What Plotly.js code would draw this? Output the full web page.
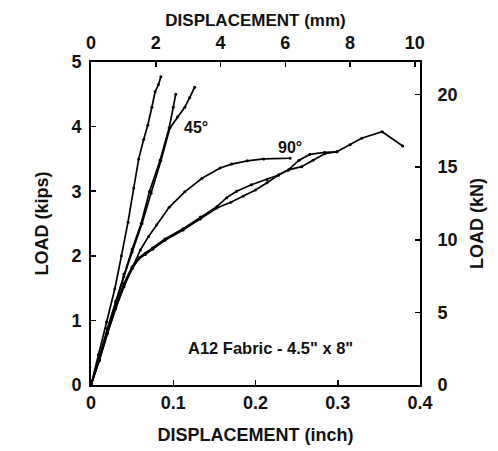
<!DOCTYPE html>
<html>
<head>
<meta charset="utf-8">
<script src="https://cdn.plot.ly/plotly-3.0.1.min.js"></script>
<style>
  html, body { margin: 0; padding: 0; background: #fff; }
  #chart { width: 498px; height: 451px; }
</style>
</head>
<body>
<div id="chart"></div>
<script>
// Load–displacement curves, A12 fabric specimens (inch / kips)
const steepA_x = [0, 0.009, 0.019, 0.029, 0.037, 0.045, 0.052, 0.058, 0.064, 0.069, 0.074, 0.078, 0.082, 0.085];
const steepA_y = [0, 0.47, 0.98, 1.49, 2.0, 2.52, 3.05, 3.5, 3.8, 4.02, 4.3, 4.54, 4.65, 4.77];

const steepB_x = [0, 0.01, 0.02, 0.03, 0.04, 0.05, 0.061, 0.071, 0.084, 0.095, 0.1, 0.103];
const steepB_y = [0, 0.42, 0.88, 1.3, 1.72, 2.1, 2.5, 2.99, 3.48, 3.98, 4.3, 4.5];

const deg45_x = [0, 0.01, 0.02, 0.03, 0.04, 0.05, 0.062, 0.073, 0.085, 0.096, 0.105, 0.114, 0.12, 0.126];
const deg45_y = [0, 0.4, 0.85, 1.27, 1.68, 2.06, 2.5, 2.97, 3.47, 3.98, 4.15, 4.3, 4.45, 4.61];

const deg90_x = [0, 0.01, 0.02, 0.03, 0.04, 0.05, 0.06, 0.07, 0.08, 0.095, 0.114, 0.135, 0.157, 0.171, 0.19, 0.21, 0.242];
const deg90_y = [0, 0.38, 0.8, 1.18, 1.52, 1.82, 2.09, 2.3, 2.48, 2.75, 2.99, 3.2, 3.36, 3.42, 3.47, 3.5, 3.51];

const longE_x = [0, 0.01, 0.02, 0.03, 0.04, 0.05, 0.058, 0.066, 0.075, 0.09, 0.112, 0.133, 0.153, 0.17, 0.185, 0.2, 0.214, 0.228, 0.24, 0.256, 0.27, 0.284, 0.299, 0.315, 0.329, 0.354, 0.379];
const longE_y = [0, 0.38, 0.8, 1.2, 1.55, 1.8, 1.95, 2.02, 2.1, 2.24, 2.40, 2.57, 2.74, 2.83, 2.92, 3.02, 3.13, 3.25, 3.33, 3.38, 3.48, 3.58, 3.61, 3.72, 3.82, 3.92, 3.70];

const longF_x = [0, 0.01, 0.02, 0.03, 0.04, 0.05, 0.058, 0.066, 0.075, 0.09, 0.112, 0.133, 0.153, 0.165, 0.177, 0.195, 0.214, 0.228, 0.24, 0.253, 0.266, 0.284, 0.299];
const longF_y = [0, 0.4, 0.82, 1.22, 1.57, 1.83, 1.97, 2.04, 2.12, 2.26, 2.42, 2.6, 2.76, 2.9, 3.0, 3.1, 3.18, 3.25, 3.33, 3.48, 3.57, 3.6, 3.61];

// Axis ranges and tick labels
const inchRange = [0, 0.4];
const kipRange = [0, 5];
const inchTicks = [0, 0.1, 0.2, 0.3, 0.4];
const inchTickText = ['0', '0.1', '0.2', '0.3', '0.4'];
const kipTicks = [0, 1, 2, 3, 4, 5];
const mmTicks = [0, 2, 4, 6, 8, 10];
const kNTicks = [0, 5, 10, 15, 20];
const MM_PER_INCH = 25.4;
const KN_PER_KIP = 4.448;

const FONT = 'Arial, "Liberation Sans", Helvetica, sans-serif';

function curve(x, y) {
  return {
    x: x, y: y, type: 'scatter', mode: 'lines+markers',
    line: { color: '#000', width: 1.7 },
    marker: { color: '#000', size: 3 },
    hoverinfo: 'skip', showlegend: false
  };
}

const traces = [
  curve(longE_x, longE_y),
  curve(longF_x, longF_y),
  curve(deg90_x, deg90_y),
  curve(steepA_x, steepA_y),
  curve(steepB_x, steepB_y),
  curve(deg45_x, deg45_y),
  // secondary (mm / kN) axes share the same frame
  {
    x: [0, inchRange[1] * MM_PER_INCH], y: [0, kipRange[1] * KN_PER_KIP],
    xaxis: 'x2', yaxis: 'y2', type: 'scatter', mode: 'markers',
    marker: { opacity: 0 }, hoverinfo: 'skip', showlegend: false
  }
];

const axisCommon = {
  showline: true, linecolor: '#000', linewidth: 2,
  ticks: 'inside', ticklen: 5, tickwidth: 1.5, tickcolor: '#000',
  showgrid: false, zeroline: false,
  tickfont: { family: FONT, size: 18, color: '#111', weight: 'bold' },
  automargin: false
};

const layout = {
  width: 498, height: 451,
  margin: { l: 91, r: 78, t: 62, b: 66 },
  paper_bgcolor: '#fff', plot_bgcolor: '#fff',
  showlegend: false,
  xaxis: Object.assign({}, axisCommon, {
    range: inchRange, tickvals: inchTicks, ticktext: inchTickText,
    title: { text: 'DISPLACEMENT (inch)', standoff: 17,
             font: { family: FONT, size: 18, color: '#111', weight: 'bold' } }
  }),
  yaxis: Object.assign({}, axisCommon, {
    range: kipRange, tickvals: kipTicks, ticklabelstandoff: 4,
    title: { text: 'LOAD (kips)', standoff: 18,
             font: { family: FONT, size: 18, color: '#111', weight: 'bold' } }
  }),
  xaxis2: Object.assign({}, axisCommon, {
    overlaying: 'x', side: 'top', anchor: 'y',
    range: [0, inchRange[1] * MM_PER_INCH], tickvals: mmTicks, ticklabelstandoff: 4,
    title: { text: 'DISPLACEMENT (mm)', standoff: 2,
             font: { family: FONT, size: 17, color: '#111', weight: 'bold' } }
  }),
  yaxis2: Object.assign({}, axisCommon, {
    overlaying: 'y', side: 'right', anchor: 'x',
    range: [0, kipRange[1] * KN_PER_KIP], tickvals: kNTicks, ticklabelstandoff: 12,
    title: { text: 'LOAD (kN)', standoff: 14,
             font: { family: FONT, size: 18, color: '#111', weight: 'bold' } }
  }),
  annotations: [
    { x: 0.128, y: 3.98, xref: 'x', yref: 'y', text: '45°', showarrow: false,
      font: { family: FONT, size: 16, color: '#111', weight: 'bold' } },
    { x: 0.242, y: 3.68, xref: 'x', yref: 'y', text: '90°', showarrow: false,
      font: { family: FONT, size: 16, color: '#111', weight: 'bold' } },
    { x: 0.218, y: 0.57, xref: 'x', yref: 'y', text: 'A12 Fabric - 4.5" x 8"', showarrow: false,
      font: { family: FONT, size: 16.5, color: '#111', weight: 'bold' } }
  ]
};

Plotly.newPlot('chart', traces, layout, { staticPlot: true, displayModeBar: false });
</script>
</body>
</html>
